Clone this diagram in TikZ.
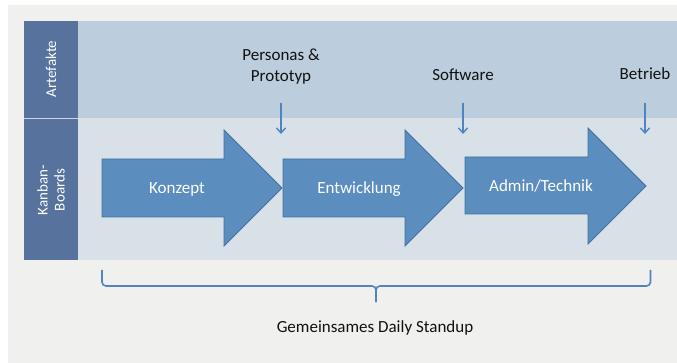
\documentclass[tikz,border=0pt]{standalone}
\usepackage{fontspec}
\setmainfont{Carlito}
\usetikzlibrary{arrows.meta}
\definecolor{outerbg}{HTML}{F0F0EE}
\definecolor{headcol}{HTML}{57729D}
\definecolor{topband}{HTML}{BCCEDE}
\definecolor{lowband}{HTML}{D9E1E8}
\definecolor{arrfill}{HTML}{5B8DBE}
\definecolor{arrdraw}{HTML}{41719C}
\definecolor{accent}{HTML}{4F84BE}
\definecolor{txt}{HTML}{111111}
\begin{document}
\begin{tikzpicture}[x=1pt,y=-1pt,
  bigarrow/.style={fill=arrfill,draw=arrdraw,line width=0.9pt,line join=miter},
  whitelabel/.style={text=white,font=\fontsize{17}{19}\selectfont,inner sep=0pt,align=center},
  darklabel/.style={text=txt,font=\fontsize{17}{21}\selectfont,inner sep=0pt,align=center},
  sidelabel/.style={text=white,font=\fontsize{15}{17}\selectfont,inner sep=0pt,align=center,rotate=90},
  feed/.style={draw=accent,line width=1.4pt,-{Straight Barb[length=5pt,width=9pt,line width=1.4pt]}},
  bracestyle/.style={draw=accent,line width=1.6pt,rounded corners=4pt}]
\useasboundingbox (0,0) rectangle (677,363);
\fill[white] (0,0) rectangle (677,363);
\fill[outerbg] (8,5) rectangle (677,363);
% bands
\fill[topband] (78,21) rectangle (677,118);
\fill[lowband] (78,118) rectangle (677,260);
\fill[headcol] (24,21) rectangle (78,260);
\draw[white!70!headcol,line width=0.6pt] (24,118) -- (78,118);
\node[sidelabel] (art) at (51,69) {Artefakte};
\node[sidelabel] (kan) at (51,190) {Kanban-\\Boards};
% big arrows
\draw[bigarrow] (102,159) -- (224,159) -- (224,130) -- (282,188) -- (224,246) -- (224,217) -- (102,217) -- cycle;
\draw[bigarrow] (283,159) -- (405,159) -- (405,130) -- (463,188) -- (405,246) -- (405,217) -- (283,217) -- cycle;
\draw[bigarrow] (465,157) -- (588,157) -- (588,128) -- (646,186) -- (588,244) -- (588,214) -- (465,214) -- cycle;
\node[whitelabel] (konzept) at (177,189) {Konzept};
\node[whitelabel] (entw) at (359,189) {Entwicklung};
\node[whitelabel] (admin) at (541,186) {Admin/Technik};
% artefacts
\node[darklabel] (pers) at (281,67) {Personas \&\\Prototyp};
\node[darklabel] (soft) at (463,75) {Software};
\node[darklabel] (betr) at (645,74) {Betrieb};
\coordinate (p1) at (281,103); \coordinate (p2) at (281,134);
\coordinate (s1) at (463,103); \coordinate (s2) at (463,134);
\coordinate (b1) at (645,103); \coordinate (b2) at (645,134);
\draw[feed] (p1) -- (p2);
\draw[feed] (s1) -- (s2);
\draw[feed] (b1) -- (b2);
% brace
\coordinate (bl) at (102,270);
\coordinate (br) at (650.5,270);
\coordinate (btip) at (376,302);
\draw[bracestyle] (bl) |- (376,286) -- (btip);
\draw[bracestyle] (btip) -- (376,286) -| (br);
\node[darklabel] (daily) at (375,328) {Gemeinsames Daily Standup};
\end{tikzpicture}
\end{document}
